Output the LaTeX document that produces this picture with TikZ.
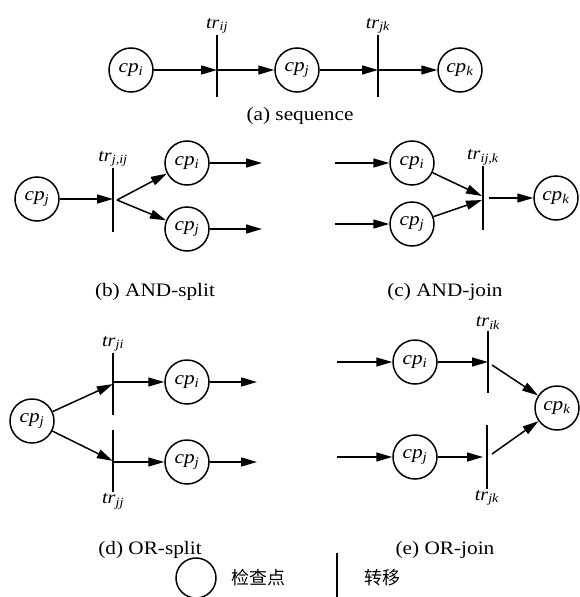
\documentclass[tikz,border=0pt]{standalone}
\usepackage{fontspec}
\setmainfont{Liberation Serif}[FakeStretch=1.12]
\newfontfamily\cjk{Noto Sans CJK SC}
\usetikzlibrary{arrows.meta,calc}
\newcommand\cpl[1]{\textit{cp}\textsubscript{\textit{#1}}}
\newcommand\trl[1]{\textit{tr}\textsubscript{\textit{#1}}}
\begin{document}
\begin{tikzpicture}[x=1pt,y=-1pt,
  place/.style={circle,draw,line width=1.5pt,minimum size=44pt,inner sep=0pt,font=\fontsize{19}{19}\selectfont},
  barnode/.style={rectangle,minimum width=0pt,inner sep=0pt,minimum height=#1},
  barline/.style={line width=1.5pt},
  arr/.style={-{Triangle[length=16pt,width=9pt]},line width=1.5pt},
  lbl/.style={inner sep=1pt,font=\fontsize{18}{18}\selectfont},
  captxt/.style={inner sep=0pt,font=\fontsize{19}{19}\selectfont}]
\useasboundingbox (0,0) rectangle (580,597);
% (a) sequence
\node[place] (cpa1) at (131,70) {\cpl{i}};
\node[barnode=62pt] (ta1) at (217,66) {};
\node[place] (cpa2) at (297,70) {\cpl{j}};
\node[barnode=62pt] (ta2) at (378,66) {};
\node[place] (cpa3) at (460,70) {\cpl{k}};
\draw[barline] (ta1.north) -- (ta1.south);
\draw[barline] (ta2.north) -- (ta2.south);
\node[lbl,anchor=south] (la1) at (ta1.north) {\trl{ij}};
\node[lbl,anchor=south] (la2) at (ta2.north) {\trl{jk}};
\draw[arr] (cpa1) -- (cpa1 -| ta1);
\draw[arr] (cpa1 -| ta1) -- (cpa2);
\draw[arr] (cpa2) -- (cpa2 -| ta2);
\draw[arr] (cpa2 -| ta2) -- (cpa3);
\node[captxt] (capa) at (300,116) {(a) sequence};
% (b) AND-split
\node[place] (cpb0) at (37,199) {\cpl{j}};
\node[barnode=64pt] (tb) at (113,200) {};
\node[place] (cpb1) at (187,163) {\cpl{i}};
\node[place] (cpb2) at (187,229) {\cpl{j}};
\coordinate (ob1) at (262,163);
\coordinate (ob2) at (262,229);
\draw[barline] (tb.north) -- (tb.south);
\node[lbl,anchor=south] (lb) at (tb.north) {\trl{j,ij}};
\draw[arr] (cpb0) -- (cpb0 -| tb);
\draw[arr] ($(tb)+(4,0)$) -- (cpb1);
\draw[arr] ($(tb)+(4,0)$) -- (cpb2);
\draw[arr] (cpb1) -- (ob1);
\draw[arr] (cpb2) -- (ob2);
\node[captxt] (capb) at (155,292) {(b) AND-split};
% (c) AND-join
\coordinate (ic1) at (335,163);
\coordinate (ic2) at (335,224);
\node[place] (cpc1) at (412,163) {\cpl{i}};
\node[place] (cpc2) at (412,224) {\cpl{j}};
\node[barnode=63pt] (tc) at (483,198) {};
\node[place] (cpc3) at (556,198) {\cpl{k}};
\draw[barline] (tc.north) -- (tc.south);
\node[lbl,anchor=south] (lc) at (tc.north) {\trl{ij,k}};
\draw[arr] (ic1) -- (cpc1);
\draw[arr] (ic2) -- (cpc2);
\draw[arr] (cpc1) -- ($(tc)+(-1,-2)$);
\draw[arr] (cpc2) -- ($(tc)+(-1,2)$);
\draw[arr] ($(tc)+(6,0)$) -- (cpc3);
\node[captxt] (capc) at (445,292) {(c) AND-join};
% (d) OR-split
\node[place] (cpd0) at (32,421) {\cpl{j}};
\node[barnode=62pt] (td1) at (113,384) {};
\node[barnode=62pt] (td2) at (113,461) {};
\node[place] (cpd1) at (187,382) {\cpl{i}};
\node[place] (cpd2) at (187,462) {\cpl{j}};
\coordinate (od1) at (257,382);
\coordinate (od2) at (257,462);
\draw[barline] (td1.north) -- (td1.south);
\draw[barline] (td2.north) -- (td2.south);
\node[lbl,anchor=south] (ld1) at (td1.north) {\trl{ji}};
\node[lbl,anchor=north] (ld2) at (td2.south) {\trl{jj}};
\draw[arr] (cpd0) -- (td1);
\draw[arr] (cpd0) -- (td2);
\draw[arr] (cpd1 -| td1) -- (cpd1);
\draw[arr] (cpd2 -| td2) -- (cpd2);
\draw[arr] (cpd1) -- (od1);
\draw[arr] (cpd2) -- (od2);
\node[captxt] (capd) at (150,550) {(d) OR-split};
% (e) OR-join
\coordinate (ie1) at (337,362);
\coordinate (ie2) at (337,457);
\node[place] (cpe1) at (415,362) {\cpl{i}};
\node[place] (cpe2) at (415,457) {\cpl{j}};
\node[barnode=62pt] (te1) at (488,362) {};
\node[barnode=63pt] (te2) at (487,457) {};
\node[place] (cpe3) at (557,408) {\cpl{k}};
\draw[barline] (te1.north) -- (te1.south);
\draw[barline] (te2.north) -- (te2.south);
\node[lbl,anchor=south] (le1) at (te1.north) {\trl{ik}};
\node[lbl,anchor=north] (le2) at (te2.south) {\trl{jk}};
\draw[arr] (ie1) -- (cpe1);
\draw[arr] (ie2) -- (cpe2);
\draw[arr] (cpe1) -- (cpe1 -| te1);
\draw[arr] (cpe2) -- ($(cpe2 -| te2)+(-4,0)$);
\draw[arr] ($(te1)+(4,3)$) -- (cpe3);
\draw[arr] ($(te2)+(5,-3)$) -- (cpe3);
\node[captxt] (cape) at (445,550) {(e) OR-join};
% legend
\node[place,minimum size=40pt] (lg1) at (196,578) {};
\node[inner sep=0pt,font=\cjk\fontsize{18}{18}\selectfont] (lgt1) at (258,578) {检查点};
\node[barnode=48pt] (lg2) at (337,577) {};
\draw[barline] (lg2.north) -- (lg2.south);
\node[inner sep=0pt,font=\cjk\fontsize{18}{18}\selectfont] (lgt2) at (382,578) {转移};
\end{tikzpicture}
\end{document}
